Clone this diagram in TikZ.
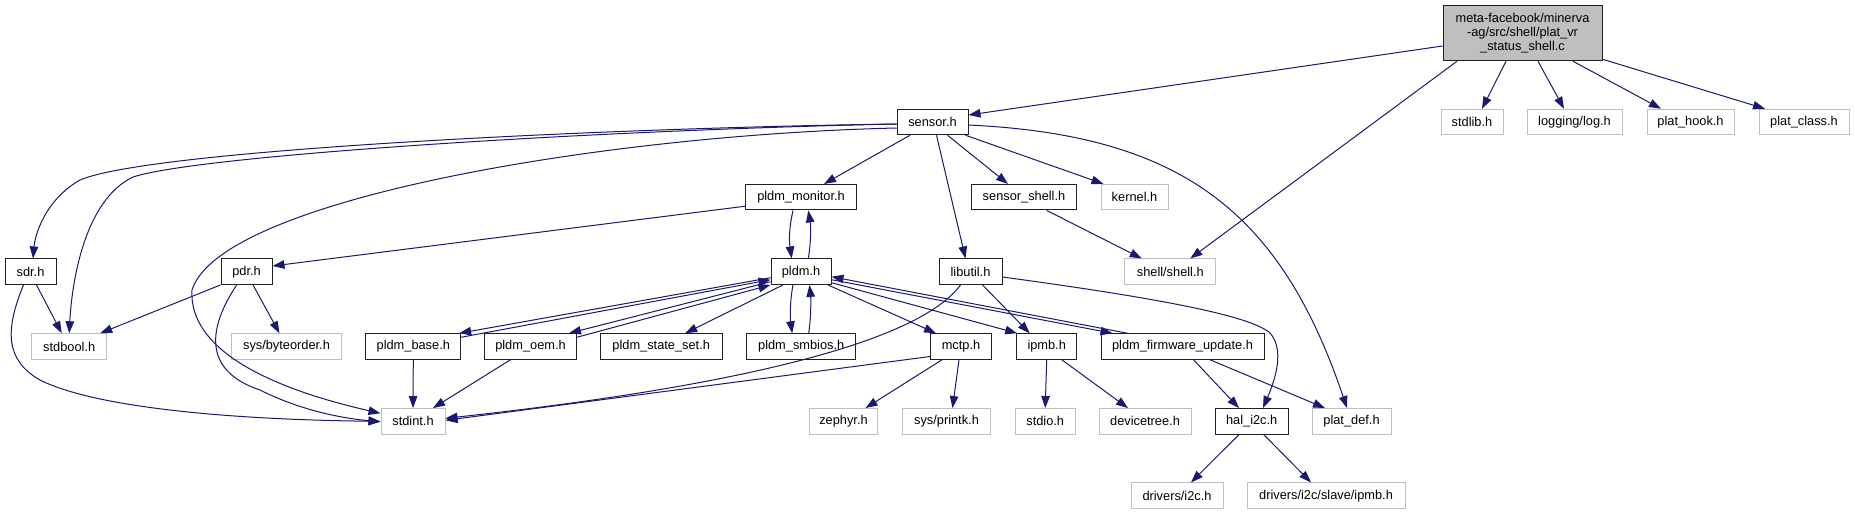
\documentclass[tikz,border=0pt]{standalone}
\usepackage{fontspec}
\setmainfont{Liberation Sans}
\usetikzlibrary{arrows.meta}
\definecolor{edgeblue}{HTML}{191970}
\definecolor{undocgray}{HTML}{BFBFBF}
\definecolor{mainfill}{HTML}{BFBFBF}
\definecolor{docborder}{HTML}{202020}
\newcommand{\dxfont}{\fontsize{12.8pt}{14.2pt}\selectfont}
\tikzset{
  docbox/.style={draw=docborder, line width=1pt, minimum height=25.5pt, inner sep=0pt, font=\dxfont},
  undocbox/.style={draw=undocgray, line width=1pt, minimum height=25.5pt, inner sep=0pt, font=\dxfont},
  mainbox/.style={draw=docborder, fill=mainfill, line width=1pt, minimum height=55.5pt, inner sep=0pt, font=\dxfont, align=center},
  edge/.style={draw=edgeblue, line width=1pt, -{Triangle[length=12pt,width=8.5pt]}},
}
\begin{document}
\begin{tikzpicture}[x=1pt,y=-1pt]
\fill[white] (0,0) rectangle (1855,515);
\useasboundingbox (0,0) rectangle (1855,515);
% row 0
\node[mainbox, minimum width=159pt] (main) at (1522.5,33) {meta-facebook/minerva\\-ag/src/shell/plat\_vr\\\_status\_shell.c};
% row 1
\node[docbox, minimum width=71pt] (sensor) at (932.5,122) {sensor.h};
\node[undocbox, minimum width=62pt] (stdlib) at (1472,122) {stdlib.h};
\node[undocbox, minimum width=95pt] (log) at (1574.5,122) {logging/log.h};
\node[undocbox, minimum width=87pt] (hook) at (1690.5,122) {plat\_hook.h};
\node[undocbox, minimum width=90pt] (cls) at (1804,122) {plat\_class.h};
% row 2
\node[docbox, minimum width=110.6pt] (pmon) at (801,197.2) {pldm\_monitor.h};
\node[docbox, minimum width=105.7pt] (sshell) at (1024,197.2) {sensor\_shell.h};
\node[undocbox, minimum width=67pt] (kernel) at (1134.5,197.2) {kernel.h};
% row 3
\node[docbox, minimum width=51pt] (sdr) at (30.5,271.7) {sdr.h};
\node[docbox, minimum width=51pt] (pdr) at (246.5,271.7) {pdr.h};
\node[docbox, minimum width=60pt] (pldm) at (801,271.7) {pldm.h};
\node[docbox, minimum width=63pt] (libutil) at (970.5,271.7) {libutil.h};
\node[undocbox, minimum width=90.7pt] (shell) at (1170.3,271.7) {shell/shell.h};
% row 4
\node[undocbox, minimum width=75pt] (stdbool) at (69.2,346.5) {stdbool.h};
\node[undocbox, minimum width=109.6pt] (byteorder) at (286.5,346.5) {sys/byteorder.h};
\node[docbox, minimum width=94.7pt] (pbase) at (413.3,346.5) {pldm\_base.h};
\node[docbox, minimum width=92pt] (poem) at (530.5,346.5) {pldm\_oem.h};
\node[docbox, minimum width=121.7pt] (pstate) at (661.2,346.5) {pldm\_state\_set.h};
\node[docbox, minimum width=109pt] (psmb) at (801.2,346.5) {pldm\_smbios.h};
\node[docbox, minimum width=61pt] (mctp) at (961,346.5) {mctp.h};
\node[docbox, minimum width=60pt] (ipmb) at (1046.7,346.5) {ipmb.h};
\node[docbox, minimum width=163pt] (pfw) at (1182.5,346.5) {pldm\_firmware\_update.h};
% row 5
\node[undocbox, minimum width=64pt] (stdint) at (413,421.3) {stdint.h};
\node[undocbox, minimum width=68pt] (zephyr) at (843.5,421.3) {zephyr.h};
\node[undocbox, minimum width=88.4pt] (printk) at (946.5,421.3) {sys/printk.h};
\node[undocbox, minimum width=60.3pt] (stdio) at (1045.2,421.3) {stdio.h};
\node[undocbox, minimum width=92pt] (devtree) at (1145,421.3) {devicetree.h};
\node[docbox, minimum width=73.3pt] (hali2c) at (1251.7,421.3) {hal\_i2c.h};
\node[undocbox, minimum width=79pt] (platdef) at (1351.5,421.3) {plat\_def.h};
% row 6
\node[undocbox, minimum width=92pt] (i2c) at (1177,495.7) {drivers/i2c.h};
\node[undocbox, minimum width=158pt] (slave) at (1326,495.7) {drivers/i2c/slave/ipmb.h};

% main edges
\draw[edge] ([yshift=-13pt]main.west) -- ([yshift=7pt]sensor.east);
\draw[edge] ([xshift=-65.5pt]main.south) -- ([xshift=20pt]shell.north);
\draw[edge] ([xshift=-16.5pt]main.south) -- ([xshift=10pt]stdlib.north);
\draw[edge] ([xshift=15.5pt]main.south) -- ([xshift=-10.5pt]log.north);
\draw[edge] ([xshift=50.5pt]main.south) -- ([xshift=-29.5pt]hook.north);
\draw[edge] ([yshift=2pt]main.south east) -- ([xshift=-39pt]cls.north);

% sensor edges
\draw[edge] ([yshift=-2pt]sensor.west) .. controls (600,128) and (150,150) .. (80,180) .. controls (45,200) and (35,235) .. ([xshift=2.5pt]sdr.north);
\draw[edge] ([yshift=-2pt]sensor.west) .. controls (600,130) and (200,155) .. (133,177) .. controls (85,200) and (72,280) .. (stdbool.north);
\draw[edge] ([yshift=-6pt]sensor.west) .. controls (600,135) and (220,200) .. (192,290) .. controls (188,360) and (300,395) .. ([yshift=8pt]stdint.west);
\draw[edge] ([xshift=-22.5pt]sensor.south) -- ([xshift=23pt]pmon.north);
\draw[edge] ([xshift=4pt]sensor.south) -- ([xshift=-5pt]libutil.north);
\draw[edge] ([xshift=15pt]sensor.south) -- ([xshift=-16pt]sshell.north);
\draw[edge] ([xshift=-3pt]sensor.south east) -- ([xshift=-31pt]kernel.north);
\draw[edge] ([yshift=-3pt]sensor.east) .. controls (1180,135) and (1280,210) .. ([xshift=-4.5pt]platdef.north);

% pldm_monitor edges
\draw[edge] ([yshift=-9pt]pmon.west) -- ([yshift=5.7pt]pdr.east);
\draw[edge] ([xshift=-8pt]pmon.south) .. controls (789,228) and (789,240) .. ([xshift=-9.3pt]pldm.north);
\draw[edge] ([xshift=7.3pt]pldm.north) .. controls (811,242) and (811,227) .. ([xshift=7.3pt]pmon.south);

% pldm edges
\draw[edge] ([yshift=-6pt]pldm.west) -- ([xshift=-2pt]pbase.north east);
\draw[edge] ([yshift=-4pt]pbase.north east) -- ([yshift=-8pt]pldm.west);
\draw[edge] ([yshift=-10pt]pldm.west) -- ([xshift=-8pt]poem.north east);
\draw[edge] ([yshift=-4pt]poem.north east) -- (pldm.south west);
\draw[edge] ([xshift=-18pt]pldm.south) -- ([xshift=24pt]pstate.north);
\draw[edge] ([xshift=-8pt]pldm.south) .. controls (790,300) and (790,318) .. ([xshift=-9pt]psmb.north);
\draw[edge] ([xshift=7.5pt]psmb.north) .. controls (811,318) and (811,300) .. ([xshift=8.5pt]pldm.south);
\draw[edge] ([xshift=27pt]pldm.south) -- ([xshift=-25pt]mctp.north);
\draw[edge] ([yshift=-11pt]pldm.east) -- ([xshift=1pt]ipmb.north west);
\draw[edge] ([yshift=-8pt]pldm.east) -- ([xshift=12pt]pfw.north west);
\draw[edge] ([xshift=27pt]pfw.north west) -- ([yshift=-5pt]pldm.east);

% libutil edges
\draw[edge] ([xshift=-10pt]libutil.south) .. controls (920,340) and (750,385) .. ([yshift=3pt]stdint.east);
\draw[edge] ([xshift=12pt]libutil.south) -- ([xshift=-17pt]ipmb.north);
\draw[edge] ([yshift=-5.3pt]libutil.east) .. controls (1150,297) and (1250,315) .. (1270,333) .. controls (1285,350) and (1275,380) .. ([xshift=11.3pt]hali2c.north);

% sensor_shell
\draw[edge] ([xshift=22.7pt]sshell.south) -- ([xshift=-28.6pt]shell.north);

% sdr, pdr
\draw[edge] ([xshift=6pt]sdr.south) -- ([xshift=-7.5pt]stdbool.north);
\draw[edge] ([xshift=-7pt]sdr.south) .. controls (5,330) and (5,360) .. (40,380) .. controls (100,410) and (250,420) .. (stdint.west);
\draw[edge] (pdr.south west) -- ([xshift=-7pt]stdbool.north east);
\draw[edge] ([xshift=6.5pt]pdr.south) -- ([xshift=-7pt]byteorder.north);
\draw[edge] ([xshift=-9.8pt]pdr.south) .. controls (210,325) and (200,370) .. (260,390) .. controls (300,410) and (340,418) .. ([yshift=-0.5pt]stdint.west);

% row 4 edges
\draw[edge] (pbase.south) -- (stdint.north);
\draw[edge] ([xshift=-20pt]poem.south) -- ([xshift=20pt]stdint.north);
\draw[edge] ([yshift=-10pt]mctp.west) -- ([yshift=1pt]stdint.east);
\draw[edge] ([xshift=-19pt]mctp.south) -- ([xshift=22pt]zephyr.north);
\draw[edge] ([xshift=-2pt]mctp.south) -- ([xshift=6pt]printk.north);
\draw[edge] (ipmb.south) -- (stdio.north);
\draw[edge] ([xshift=15pt]ipmb.south) -- ([xshift=-17pt]devtree.north);
\draw[edge] ([xshift=11pt]pfw.south) -- ([xshift=-12.7pt]hali2c.north);
\draw[edge] ([xshift=27.5pt]pfw.south) -- ([xshift=-26.5pt]platdef.north);

% hal_i2c
\draw[edge] ([xshift=-12.7pt]hali2c.south) -- ([xshift=14pt]i2c.north);
\draw[edge] ([xshift=12pt]hali2c.south) -- ([xshift=-15pt]slave.north);
\end{tikzpicture}
\end{document}
